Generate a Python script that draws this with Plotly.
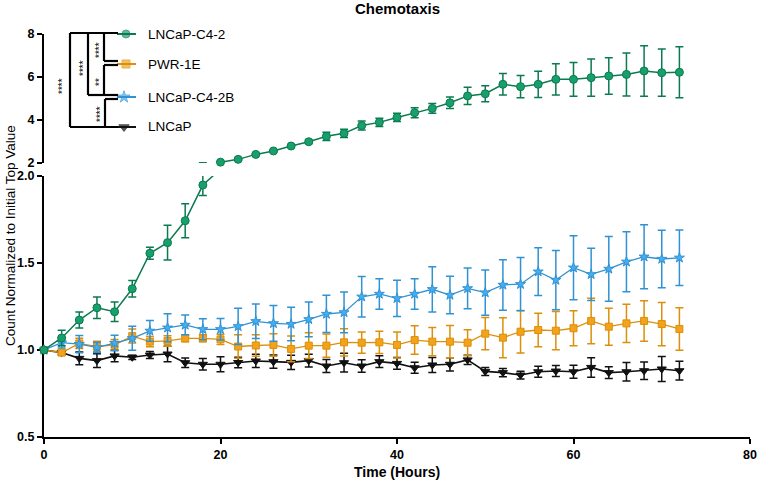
import plotly.graph_objects as go

# ---------------- data ----------------
hours = [0, 2, 4, 6, 8, 10, 12, 14, 16, 18, 20, 22, 24, 26, 28, 30, 32, 34, 36,
         38, 40, 42, 44, 46, 48, 50, 52, 54, 56, 58, 60, 62, 64, 66, 68, 70, 72]

c42 = [1.00, 1.069, 1.172, 1.243, 1.22, 1.352, 1.556, 1.617, 1.743, 1.948,
       2.04, 2.17, 2.40, 2.56, 2.79, 2.99, 3.24, 3.38, 3.74, 3.89, 4.12, 4.34,
       4.54, 4.80, 5.12, 5.22, 5.66, 5.55, 5.66, 5.89, 5.89, 5.97, 6.05, 6.12,
       6.28, 6.20, 6.22]
c42_err = [0.0, 0.044, 0.046, 0.062, 0.056, 0.047, 0.034, 0.10, 0.098, 0.06,
           0.03, 0.04, 0.04, 0.05, 0.06, 0.08, 0.19, 0.19, 0.21, 0.19, 0.19, 0.23,
           0.23, 0.27, 0.40, 0.37, 0.50, 0.52, 0.61, 0.73, 0.78, 0.87, 0.85, 1.00,
           1.17, 1.10, 1.19]

pwr = [1.00, 0.985, 1.038, 1.02, 1.03, 1.08, 1.048, 1.052, 1.067, 1.067,
       1.061, 1.02, 1.026, 1.029, 1.006, 1.025, 1.025, 1.044, 1.042, 1.044,
       1.029, 1.057, 1.048, 1.048, 1.042, 1.094, 1.071, 1.105, 1.115, 1.111,
       1.125, 1.167, 1.134, 1.153, 1.167, 1.149, 1.121]
pwr_err = [0.0, 0.015, 0.03, 0.03, 0.03, 0.04, 0.03, 0.03, 0.02, 0.02,
           0.03, 0.067, 0.062, 0.065, 0.074, 0.074, 0.067, 0.078, 0.061, 0.064,
           0.075, 0.082, 0.081, 0.093, 0.075, 0.093, 0.115, 0.122, 0.096, 0.11,
           0.10, 0.131, 0.106, 0.11, 0.116, 0.124, 0.122]

c42b = [1.00, 1.042, 1.034, 1.015, 1.04, 1.067, 1.11, 1.128, 1.144, 1.119,
        1.119, 1.136, 1.165, 1.153, 1.149, 1.176, 1.207, 1.216, 1.306, 1.322,
        1.297, 1.322, 1.349, 1.316, 1.354, 1.33, 1.374, 1.378, 1.45, 1.402,
        1.473, 1.435, 1.466, 1.507, 1.536, 1.523, 1.53]
c42b_err = [0.0, 0.03, 0.05, 0.03, 0.045, 0.069, 0.06, 0.08, 0.057, 0.06,
            0.062, 0.104, 0.099, 0.103, 0.096, 0.10, 0.107, 0.117, 0.116, 0.088,
            0.104, 0.088, 0.13, 0.108, 0.117, 0.13, 0.145, 0.153, 0.137, 0.17,
            0.184, 0.15, 0.186, 0.172, 0.184, 0.165, 0.16]

lncap = [1.00, 0.985, 0.952, 0.939, 0.966, 0.958, 0.971, 0.977, 0.927, 0.918,
         0.918, 0.928, 0.937, 0.933, 0.929, 0.939, 0.908, 0.927, 0.908, 0.933,
         0.923, 0.898, 0.914, 0.918, 0.943, 0.877, 0.87, 0.856, 0.875, 0.879,
         0.875, 0.90, 0.87, 0.875, 0.881, 0.891, 0.881]
lncap_err = [0.0, 0.01, 0.037, 0.04, 0.034, 0.012, 0.02, 0.044, 0.027, 0.033,
             0.043, 0.03, 0.038, 0.038, 0.041, 0.037, 0.038, 0.054, 0.036, 0.034,
             0.034, 0.032, 0.043, 0.038, 0.027, 0.023, 0.024, 0.022, 0.031, 0.032,
             0.038, 0.056, 0.034, 0.053, 0.05, 0.072, 0.054]

series_names = ["LNCaP-C4-2", "PWR-1E", "LNCaP-C4-2B", "LNCaP"]
x_ticks = [0, 20, 40, 60, 80]
y_low_ticks = [0.5, 1.0, 1.5, 2.0]
y_low_labels = ["0.5", "1.0", "1.5", "2.0"]
y_up_ticks = [2, 4, 6, 8]
y_up_labels = ["2", "4", "6", "8"]
BREAK = 2.0

# ---------------- styles ----------------
GREEN, GREEN_D = "#17a06c", "#0b7a50"
ORANGE, ORANGE_D = "#f2a31b", "#dc8f0a"
BLUE, BLUE_D = "#45aef0", "#3192d3"
BLACK = "#111111"
FONT = "Liberation Sans, Arial, sans-serif"

W, H = 757, 481
L, R, T, B = 44, 7, 34, 44
PW, PH = W - L - R, H - T - B
Y_LOW_TOP_PX, Y_UP_BOT_PX = 176, 163


def fx(px):
    return (px - L) / PW


def fy(py):
    return (H - B - py) / PH


fig = go.Figure()


def err(arr, color):
    return dict(type="data", array=arr, color=color, thickness=1.5, width=4, visible=True)


def lower_trace(name, y, e, color, dark, symbol, size, lw):
    fig.add_trace(go.Scatter(
        x=hours, y=y, name=name, mode="lines+markers", xaxis="x", yaxis="y",
        line=dict(color=dark, width=lw),
        marker=dict(symbol=symbol, size=size, color=color, line=dict(color=dark, width=1)),
        error_y=err(e, dark), cliponaxis=False, showlegend=False))


lower_trace("LNCaP", lncap, lncap_err, BLACK, BLACK, "triangle-down", 8, 1.6)
lower_trace("PWR-1E", pwr, pwr_err, ORANGE, ORANGE_D, "square", 7, 1.3)
lower_trace("LNCaP-C4-2B", c42b, c42b_err, BLUE, BLUE_D, "star", 7.5, 1.3)

# LNCaP-C4-2 split across the broken axis
lo_x = [h for h, v in zip(hours, c42) if v <= BREAK]
lo_y = [v for v in c42 if v <= BREAK]
lo_e = [e for e, v in zip(c42_err, c42) if v <= BREAK]
up_x = [h for h, v in zip(hours, c42) if v >= BREAK]
up_y = [v for v in c42 if v >= BREAK]

fig.add_trace(go.Scatter(x=hours, y=c42, mode="lines", xaxis="x", yaxis="y",
                         line=dict(color=GREEN_D, width=1.5), showlegend=False))
fig.add_trace(go.Scatter(x=lo_x, y=lo_y, mode="markers", xaxis="x", yaxis="y",
                         marker=dict(symbol="circle", size=8, color=GREEN, line=dict(color=GREEN_D, width=1)),
                         error_y=err(lo_e, GREEN_D), cliponaxis=False, showlegend=False))
fig.add_trace(go.Scatter(x=hours, y=c42, mode="markers", xaxis="x", yaxis="y2",
                         marker=dict(size=1, opacity=0),
                         error_y=err(c42_err, GREEN_D), cliponaxis=True, showlegend=False,
                         hoverinfo="skip"))
fig.add_trace(go.Scatter(x=up_x, y=up_y, mode="lines+markers", xaxis="x", yaxis="y2",
                         line=dict(color=GREEN_D, width=1.5),
                         marker=dict(symbol="circle", size=8, color=GREEN, line=dict(color=GREEN_D, width=1)),
                         cliponaxis=False, showlegend=False, name="LNCaP-C4-2"))

# ---------------- custom legend with significance brackets ----------------
leg_y = [34, 64, 97, 127]
leg_sym = ["circle", "square", "star", "triangle-down"]
leg_col = [GREEN, ORANGE, BLUE, BLACK]
leg_dark = [GREEN_D, ORANGE_D, BLUE_D, BLACK]
leg_size = [8, 8, 9, 9]
leg_mx = [126, 126, 124, 124]

shapes = []
for yy, dk in zip(leg_y, leg_dark):
    shapes.append(dict(type="line", xref="paper", yref="paper",
                       x0=fx(117), x1=fx(136), y0=fy(yy), y1=fy(yy),
                       line=dict(color=dk, width=2)))

bracket_segments = [
    (70, 33, 118, 33), (70, 33, 70, 127), (70, 127, 118, 127),
    (88, 33, 88, 95), (88, 95, 118, 95),
    (104, 33, 104, 61), (104, 61, 118, 61),
    (104, 65, 104, 94), (104, 65, 118, 65),
    (105, 99, 105, 127), (105, 99, 118, 99),
]
for x0, y0, x1, y1 in bracket_segments:
    shapes.append(dict(type="line", xref="paper", yref="paper",
                       x0=fx(x0), x1=fx(x1), y0=fy(y0), y1=fy(y1),
                       line=dict(color="black", width=2.2)))

fig.add_trace(go.Scatter(x=leg_mx, y=leg_y, mode="markers", xaxis="x3", yaxis="y3",
                         marker=dict(symbol=leg_sym, size=leg_size, color=leg_col,
                                     line=dict(color=leg_dark, width=1)),
                         cliponaxis=False, showlegend=False, hoverinfo="skip"))

annotations = []
for name, yy in zip(series_names, leg_y):
    annotations.append(dict(text=name, xref="paper", yref="paper", x=fx(146), y=fy(yy),
                            xanchor="left", yanchor="middle", showarrow=False,
                            font=dict(family=FONT, size=13.5, color="black")))

stars = [("****", 62, 86), ("****", 83, 68), ("****", 99, 50), ("**", 99, 82), ("****", 100, 114)]
for txt, xx, yy in stars:
    annotations.append(dict(text=txt, xref="paper", yref="paper", x=fx(xx), y=fy(yy),
                            xanchor="center", yanchor="middle", showarrow=False, textangle=-90,
                            font=dict(family=FONT, size=10, color="black")))

annotations.append(dict(text="<b>Chemotaxis</b>", xref="paper", yref="paper", x=0.5, y=fy(8),
                        xanchor="center", yanchor="middle", showarrow=False,
                        font=dict(family=FONT, size=15, color="black")))
annotations.append(dict(text="<b>Time (Hours)</b>", xref="paper", yref="paper", x=0.5, y=fy(472),
                        xanchor="center", yanchor="middle", showarrow=False,
                        font=dict(family=FONT, size=14, color="black")))
annotations.append(dict(text="Count Normalized to Initial Top Value", xref="paper", yref="paper",
                        x=fx(10), y=fy(236), xanchor="center", yanchor="middle", showarrow=False,
                        textangle=-90, font=dict(family=FONT, size=13.5, color="black")))

axis_common = dict(showline=True, linewidth=2, linecolor="black", ticks="outside",
                   ticklen=5, tickwidth=2, tickcolor="black", showgrid=False,
                   zeroline=False, layer="below traces", automargin=False,
                   tickfont=dict(family=FONT, size=12.5, color="black", weight="bold"))

fig.update_layout(
    width=W, height=H,
    margin=dict(l=L, r=R, t=T, b=B, pad=0, autoexpand=False),
    paper_bgcolor="white", plot_bgcolor="rgba(0,0,0,0)",
    showlegend=False,
    xaxis=dict(domain=[0, 1], range=[0, 80], tickvals=x_ticks, anchor="y", **axis_common),
    yaxis=dict(domain=[0, fy(Y_LOW_TOP_PX)], range=[0.5, 2.0], tickvals=y_low_ticks,
               ticktext=y_low_labels, anchor="x", **axis_common),
    yaxis2=dict(domain=[fy(Y_UP_BOT_PX), 1], range=[2, 8], tickvals=y_up_ticks,
                ticktext=y_up_labels, anchor="x", **axis_common),
    xaxis3=dict(domain=[0, 1], range=[L, W - R], visible=False, anchor="y3",
                fixedrange=True, automargin=False),
    yaxis3=dict(domain=[0, 1], range=[H - B, T], visible=False, anchor="x3",
                fixedrange=True, automargin=False),
    shapes=shapes,
    annotations=annotations,
)

fig.write_html("out.html", config={"displayModeBar": False},
               post_script="document.body.style.margin='0';document.body.style.overflow='hidden';")
